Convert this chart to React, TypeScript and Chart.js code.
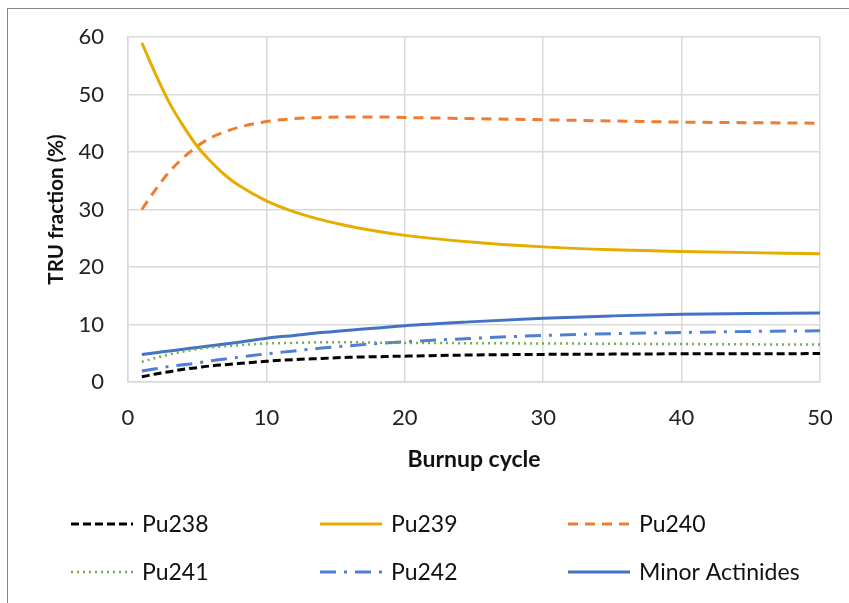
import React, { useEffect, useRef } from "react";
import { Chart, registerables } from "chart.js";

Chart.register(...registerables);

const cycles = [1, 2, 3, 4, 5, 6, 7, 8, 10, 12, 14, 16, 18, 20, 25, 30, 35, 40, 45, 50];
const pu238 = [0.9, 1.4, 1.8, 2.2, 2.5, 2.8, 3.0, 3.2, 3.6, 3.9, 4.1, 4.3, 4.4, 4.5, 4.7, 4.8, 4.85, 4.9, 4.9, 4.95];
const pu239 = [59, 53.5, 48.5, 44.5, 41, 38.3, 36, 34.2, 31.5, 29.6, 28.2, 27.1, 26.2, 25.5, 24.3, 23.5, 23.0, 22.7, 22.5, 22.3];
const pu240 = [30, 33.5, 36.6, 39, 41, 42.5, 43.5, 44.3, 45.3, 45.8, 46, 46.1, 46.1, 46, 45.8, 45.6, 45.4, 45.2, 45.1, 45];
const pu241 = [3.5, 4.2, 4.8, 5.3, 5.7, 6.0, 6.2, 6.4, 6.7, 6.8, 6.9, 6.9, 6.85, 6.8, 6.75, 6.7, 6.65, 6.6, 6.55, 6.5];
const pu242 = [1.9, 2.3, 2.7, 3.0, 3.3, 3.7, 4.0, 4.3, 4.9, 5.4, 5.9, 6.3, 6.7, 7.0, 7.6, 8.1, 8.4, 8.6, 8.8, 8.9];
const minorActinides = [4.8, 5.1, 5.4, 5.7, 6.0, 6.3, 6.6, 6.9, 7.6, 8.1, 8.6, 9.0, 9.4, 9.8, 10.5, 11.1, 11.5, 11.8, 11.9, 12.0];
const seriesNames = ["Pu238", "Pu239", "Pu240", "Pu241", "Pu242", "Minor Actinides"];
const yTicks = [0, 10, 20, 30, 40, 50, 60];
const xTicks = [0, 10, 20, 30, 40, 50];

const FONT = "Lato, 'Open Sans', sans-serif";

const toPts = (arr: number[]) => arr.map((v, i) => ({ x: cycles[i], y: v }));

const legendPlugin = {
  id: "gridLegend",
  afterDraw(chart: any) {
    const ctx = chart.ctx;
    const cols = [71, 320, 568];
    const rows = [524, 572];
    const lineLen = 62;
    const gap = 9;
    chart.data.datasets.forEach((ds: any, i: number) => {
      const lx = cols[i % 3];
      const y = rows[Math.floor(i / 3)];
      ctx.save();
      ctx.strokeStyle = ds.borderColor;
      ctx.lineWidth = ds.borderWidth;
      ctx.setLineDash(ds.borderDash || []);
      ctx.beginPath();
      ctx.moveTo(lx, y);
      ctx.lineTo(lx + lineLen, y);
      ctx.stroke();
      ctx.setLineDash([]);
      ctx.fillStyle = "#111";
      ctx.font = `23px ${FONT}`;
      ctx.textBaseline = "middle";
      ctx.textAlign = "left";
      ctx.fillText(ds.label, lx + lineLen + gap, y + 1);
      ctx.restore();
    });
  },
};

export default function App() {
  const ref = useRef<HTMLCanvasElement>(null);
  useEffect(() => {
    if (!ref.current) return;
    const mk = (i: number, data: number[], color: string, dash: number[], w = 3) => ({
      label: seriesNames[i],
      data: toPts(data),
      borderColor: color,
      backgroundColor: color,
      borderWidth: w,
      borderDash: dash,
      pointRadius: 0,
      cubicInterpolationMode: "monotone" as const,
      fill: false,
    });
    const chart = new Chart(ref.current, {
      type: "line",
      data: {
        datasets: [
          mk(0, pu238, "#000000", [8, 4]),
          mk(1, pu239, "#E5AD00", []),
          mk(2, pu240, "#ED7D31", [10, 7]),
          mk(3, pu241, "#70AD47", [2, 4], 2.5),
          mk(4, pu242, "#4F7FD0", [16, 8, 3, 8]),
          mk(5, minorActinides, "#4472C4", []),
        ],
      },
      options: {
        animation: false,
        responsive: false,
        layout: { padding: { left: 44, right: 29, top: 37, bottom: 121 } },
        plugins: { legend: { display: false }, tooltip: { enabled: false } },
        scales: {
          x: {
            type: "linear",
            min: 0,
            max: 50,
            afterBuildTicks: (s: any) => { s.ticks = xTicks.map((v) => ({ value: v })); },
            afterFit: (s: any) => { s.height = 100; s.paddingRight = 0; s.paddingLeft = 0; },
            border: { color: "#D9D9D9", width: 1.5 },
            grid: { color: "#D9D9D9", lineWidth: 1.5, drawTicks: false },
            ticks: { color: "#222", padding: 23, font: { family: FONT, size: 22 } },
            title: { display: true, text: "Burnup cycle", color: "#111", font: { family: FONT, size: 23, weight: "bold" }, padding: { top: 4, bottom: 9 } },
          },
          y: {
            min: 0,
            max: 60,
            afterBuildTicks: (s: any) => { s.ticks = yTicks.map((v) => ({ value: v })); },
            afterFit: (s: any) => { s.width = 84; s.paddingTop = 0; s.paddingBottom = 0; },
            border: { color: "#D9D9D9", width: 1.5 },
            grid: { color: "#D9D9D9", lineWidth: 1.5, drawTicks: false },
            ticks: { color: "#222", padding: 24, font: { family: FONT, size: 22 } },
            title: { display: true, text: "TRU fraction (%)", color: "#111", font: { family: FONT, size: 20.5, weight: "bold" }, padding: { top: 0, bottom: 0 } },
          },
        },
      },
      plugins: [legendPlugin],
    });
    return () => chart.destroy();
  }, []);
  return (
    <div style={{ position: "fixed", left: 0, top: 0, width: 849, height: 603, background: "#fff" }}>
      <div style={{ position: "absolute", left: 7, top: 8, width: 842, height: 595, borderLeft: "1.5px solid #888", borderTop: "1.5px solid #888" }} />
      <canvas ref={ref} width={849} height={603} style={{ position: "absolute", left: 0, top: 0 }} />
    </div>
  );
}
